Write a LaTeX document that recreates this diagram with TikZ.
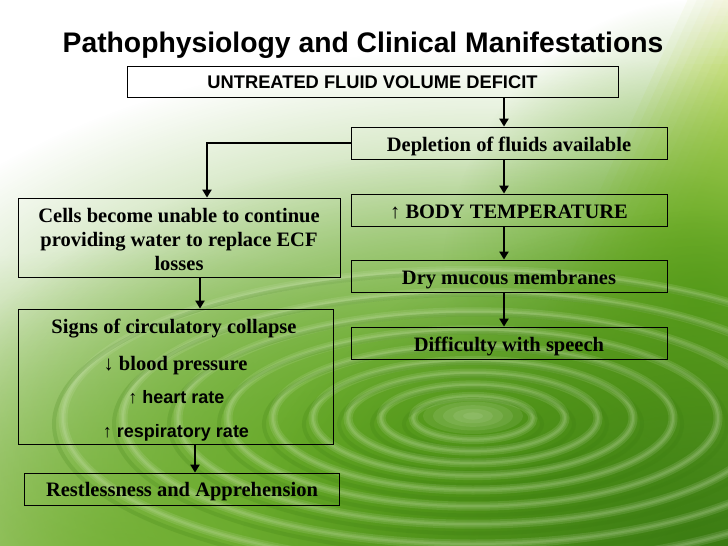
\documentclass[tikz,border=0pt]{standalone}
\usepackage{fontspec}
\setmainfont{Liberation Serif}
\newfontfamily\arialf{Liberation Sans}
\usetikzlibrary{arrows.meta,fadings}
\tikzfading[name=myfade, inner color=transparent!0, outer color=transparent!100]
\definecolor{gmain}{RGB}{95,165,30}
\definecolor{gdark}{RGB}{55,120,15}
\definecolor{glight}{RGB}{150,195,90}
\definecolor{ylw}{RGB}{205,228,70}
\definecolor{ringlight}{RGB}{225,240,205}
\begin{document}
\begin{tikzpicture}[x=1pt,y=-1pt,
  box/.style={draw=black,line width=0.8pt,inner sep=0pt},
  txt/.style={anchor=base,inner sep=0pt,font=\fontsize{20.5}{24}\selectfont\bfseries},
  stxt/.style={anchor=base,inner sep=0pt,font=\arialf\fontsize{18}{21}\selectfont\bfseries},
  arr/.style={line width=2.6pt,-{Triangle[width=9pt,length=8pt]}}]
\useasboundingbox (0,0) rectangle (728,546);
% ---- background ----
\fill[white] (0,0) rectangle (728,546);
\foreach \d in {0,9,...,99}{
  \fill[ylw,opacity=0.085] (690+\d,-5) -- (740,-5) -- (740,420) -- (494+\d,420) -- cycle;
}
\foreach \k in {1,...,8}{
  \fill[white,opacity=0.09] (0,0) rectangle (728,{8*\k});
}
\fill[glight, path fading=myfade] (120,570) ellipse (600 and 320);
\fill[gmain, path fading=myfade] (480,470) ellipse (700 and 420);
\fill[gmain, path fading=myfade] (480,470) ellipse (560 and 320);
\fill[gmain, path fading=myfade] (700,300) ellipse (260 and 300);
\fill[gdark, path fading=myfade] (720,570) ellipse (480 and 360);
\foreach \r in {60,92,125,160,200,245,295,350,410}{
  \foreach \w in {9,5,2}{
    \draw[ringlight,opacity=0.13,line width=\w pt] (473,418) ellipse ({\r} and {0.36*\r});
  }
  \draw[gdark,opacity=0.18,line width=4pt] (473,424) ellipse ({\r+9} and {0.36*(\r+9)});
}
\foreach \k in {1,...,5}{
  \fill[ringlight,opacity=0.1] (473,416) ellipse ({10*\k} and {3.6*\k});
}
% ---- title ----
\node[anchor=base,inner sep=0pt] (title) at (363,52) {\arialf\fontsize{28.3}{32}\selectfont\bfseries Pathophysiology and Clinical Manifestations};
% ---- boxes ----
\node[box,minimum width=491pt,minimum height=31pt] (unt) at (372.5,81.5) {};
\node[box,minimum width=316pt,minimum height=32pt] (dep) at (509,143) {};
\node[box,minimum width=316pt,minimum height=32pt] (temp) at (509,210) {};
\node[box,minimum width=316pt,minimum height=32pt] (dry) at (509,276) {};
\node[box,minimum width=316pt,minimum height=32pt] (diff) at (509,343) {};
\node[box,minimum width=322pt,minimum height=79pt] (cells) at (179,237.5) {};
\node[box,minimum width=315pt,minimum height=135pt] (signs) at (175.5,376.5) {};
\node[box,minimum width=315pt,minimum height=32pt] (rest) at (181.5,489) {};
% ---- texts ----
\node[stxt,font=\arialf\fontsize{18.3}{21}\selectfont\bfseries] (unt-t) at (unt.center |- 0,88.5) {UNTREATED FLUID VOLUME DEFICIT};
\node[txt] (dep-t) at (dep.center |- 0,151) {Depletion of fluids available};
\node[txt] (temp-t) at (temp.center |- 0,218) {↑ BODY TEMPERATURE};
\node[txt] (dry-t) at (dry.center |- 0,284) {Dry mucous membranes};
\node[txt] (diff-t) at (diff.center |- 0,351) {Difficulty with speech};
\node[txt] (cells-t1) at (179,222.5) {Cells become unable to continue};
\node[txt] (cells-t2) at (179,246.5) {providing water to replace ECF};
\node[txt] (cells-t3) at (179,270.5) {losses};
\node[txt] (signs-t1) at (174,333) {Signs of circulatory collapse};
\node[txt] (signs-t2) at (175.5,370.5) {↓ blood pressure};
\node[stxt] (signs-t3) at (176.5,403) {↑ heart rate};
\node[stxt] (signs-t4) at (176,437) {↑ respiratory rate};
\node[txt] (rest-t) at (182,496) {Restlessness and Apprehension};
% ---- connectors ----
\draw[arr] ([xshift=-5pt]dep.north |- unt.south) -- ([xshift=-5pt]dep.north);
\draw[arr] ([xshift=-5pt]dep.south) -- ([xshift=-5pt]dep.south |- temp.north);
\draw[arr] ([xshift=-5pt]temp.south) -- ([xshift=-5pt]temp.south |- dry.north);
\draw[arr] ([xshift=-5pt]dry.south) -- ([xshift=-5pt]dry.south |- diff.north);
\draw[arr] (dep.west) -| ([xshift=28pt]cells.north);
\draw[arr] ([xshift=21pt]cells.south) -- ([xshift=21pt]cells.south |- signs.north);
\draw[arr] ([xshift=19.5pt]signs.south) -- ([xshift=19.5pt]signs.south |- rest.north);
\end{tikzpicture}
\end{document}
